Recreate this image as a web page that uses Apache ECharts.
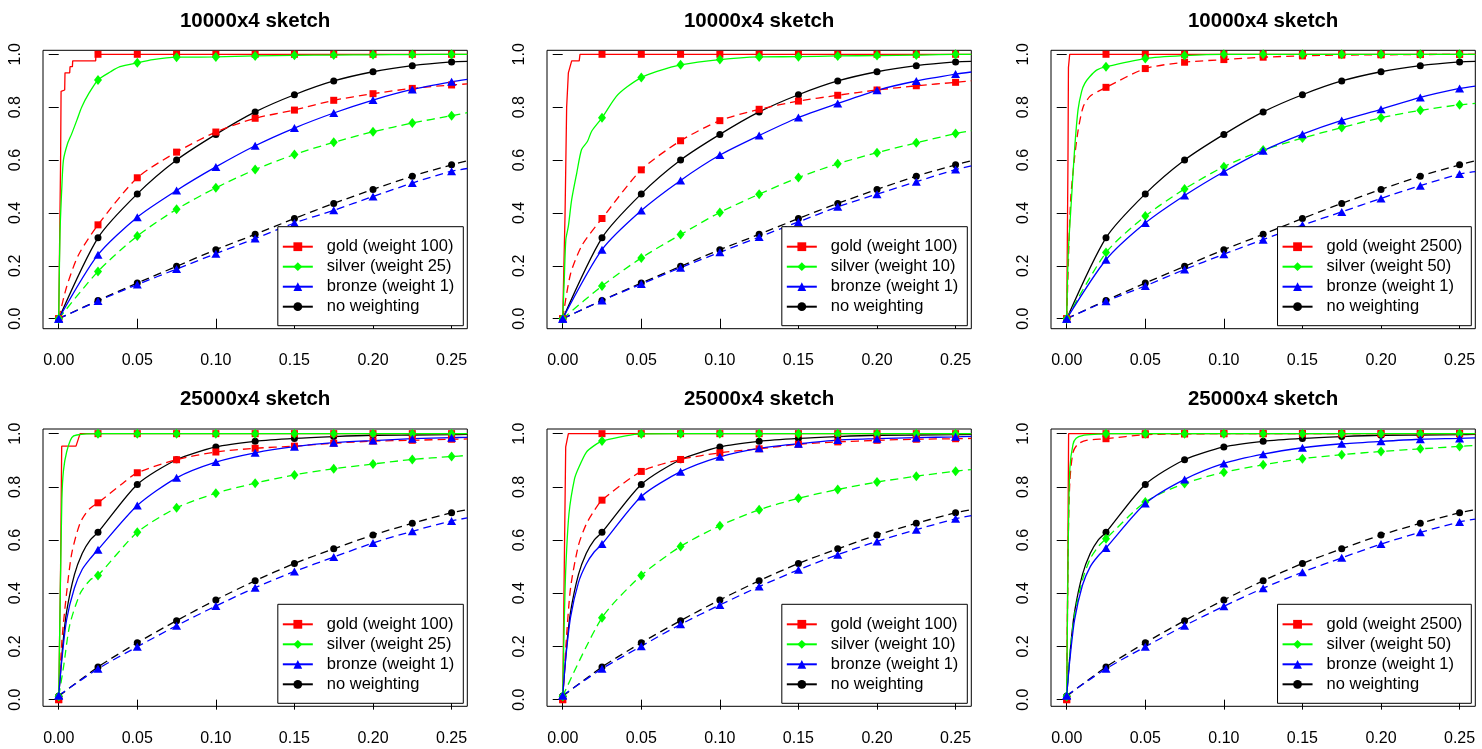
<!DOCTYPE html>
<html><head><meta charset="utf-8">
<script src="https://cdn.jsdelivr.net/npm/echarts@6/dist/echarts.min.js"></script>
<style>html,body{margin:0;padding:0;background:#fff}#c{width:1482px;height:749px}</style>
</head><body><div id="c"></div>
<script>
// ---------- data ----------
const xMarks = [0, 0.025, 0.05, 0.075, 0.1, 0.125, 0.15, 0.175, 0.2, 0.225, 0.25];
const xTicks = [0, 0.05, 0.1, 0.15, 0.2, 0.25];
const yTicks = [0, 0.2, 0.4, 0.6, 0.8, 1.0];
const panelTitles = ['10000x4 sketch', '10000x4 sketch', '10000x4 sketch', '25000x4 sketch', '25000x4 sketch', '25000x4 sketch'];
const goldNames = ['gold (weight 100)', 'gold (weight 100)', 'gold (weight 2500)', 'gold (weight 100)', 'gold (weight 100)', 'gold (weight 2500)'];
const silverNames = ['silver (weight 25)', 'silver (weight 10)', 'silver (weight 50)', 'silver (weight 25)', 'silver (weight 10)', 'silver (weight 50)'];
const bronzeNames = ['bronze (weight 1)', 'bronze (weight 1)', 'bronze (weight 1)', 'bronze (weight 1)', 'bronze (weight 1)', 'bronze (weight 1)'];
const noneName = 'no weighting';

// no weighting (shared within a row)
const topNoneSolid = [0, 0.306, 0.472, 0.600, 0.697, 0.782, 0.847, 0.899, 0.934, 0.957, 0.971];
const topNoneSolidExtra = [[0.26, 0.973]];
const topNoneDashed = [0, 0.069, 0.135, 0.198, 0.261, 0.319, 0.379, 0.436, 0.489, 0.539, 0.582];
const topNoneDashedExtra = [[0.26, 0.597]];
const botNoneSolid = [0.013, 0.629, 0.809, 0.902, 0.950, 0.971, 0.982, 0.989, 0.994, 0.995, 0.996];
const botNoneSolidExtra = [[0.0025, 0.2], [0.005, 0.33], [0.01, 0.47], [0.015, 0.55], [0.02, 0.6], [0.26, 0.997]];
const botNoneDashed = [0.013, 0.123, 0.214, 0.297, 0.375, 0.447, 0.512, 0.567, 0.619, 0.663, 0.703];
const botNoneDashedExtra = [[0.26, 0.714]];

// panel 1
const p1GoldSolid = [0, 1, 1, 1, 1, 1, 1, 1, 1, 1, 1];
const p1GoldSolidExtra = [[0.0012, 0.6], [0.0015, 0.86], [0.0038, 0.865], [0.004, 0.93], [0.007, 0.93], [0.0072, 0.953], [0.0087, 0.953], [0.0089, 0.975], [0.0235, 0.975], [0.0237, 1.0], [0.26, 1.0]];
const p1GoldDashed = [0, 0.355, 0.533, 0.630, 0.706, 0.758, 0.789, 0.826, 0.851, 0.871, 0.884];
const p1GoldDashedExtra = [[0.005, 0.12], [0.0125, 0.24], [0.26, 0.888]];
const p1SilverSolid = [0, 0.903, 0.968, 0.989, 0.990, 0.994, 0.996, 0.997, 0.998, 0.999, 1.0];
const p1SilverSolidExtra = [[0.0008, 0.32], [0.002, 0.5], [0.003, 0.6], [0.0055, 0.66], [0.0083, 0.7], [0.0115, 0.75], [0.0146, 0.8], [0.019, 0.85], [0.033, 0.934], [0.039, 0.953], [0.06, 0.98], [0.26, 1.0]];
const p1SilverDashed = [0, 0.179, 0.313, 0.414, 0.495, 0.564, 0.621, 0.667, 0.707, 0.740, 0.768];
const p1SilverDashedExtra = [[0.26, 0.779]];
const p1BronzeSolid = [0, 0.242, 0.384, 0.485, 0.574, 0.654, 0.721, 0.778, 0.827, 0.867, 0.896];
const p1BronzeSolidExtra = [[0.26, 0.905]];
const p1BronzeDashed = [0, 0.067, 0.129, 0.188, 0.246, 0.303, 0.362, 0.410, 0.462, 0.513, 0.558];
const p1BronzeDashedExtra = [[0.26, 0.568]];

// panel 2
const p2GoldSolid = [0, 1, 1, 1, 1, 1, 1, 1, 1, 1, 1];
const p2GoldSolidExtra = [[0.0015, 0.4], [0.0025, 0.8], [0.0036, 0.93], [0.0048, 0.93], [0.0057, 0.975], [0.0105, 0.975], [0.011, 1.0], [0.26, 1.0]];
const p2GoldDashed = [0, 0.379, 0.563, 0.673, 0.749, 0.792, 0.823, 0.845, 0.865, 0.881, 0.894];
const p2GoldDashedExtra = [[0.005, 0.17], [0.0125, 0.28], [0.26, 0.9]];
const p2SilverSolid = [0, 0.760, 0.912, 0.960, 0.980, 0.990, 0.991, 0.994, 0.995, 0.997, 1.0];
const p2SilverSolidExtra = [[0.001, 0.15], [0.002, 0.3], [0.0036, 0.35], [0.0057, 0.45], [0.0089, 0.55], [0.012, 0.64], [0.0157, 0.67], [0.0185, 0.71], [0.034, 0.84], [0.041, 0.877], [0.06, 0.935], [0.26, 1.0]];
const p2SilverDashed = [0, 0.124, 0.230, 0.318, 0.402, 0.471, 0.534, 0.586, 0.628, 0.665, 0.700];
const p2SilverDashedExtra = [[0.26, 0.711]];
const p2BronzeSolid = [0, 0.261, 0.409, 0.523, 0.619, 0.693, 0.761, 0.814, 0.864, 0.899, 0.925];
const p2BronzeSolidExtra = [[0.26, 0.933]];
const p2BronzeDashed = [0, 0.069, 0.131, 0.193, 0.251, 0.309, 0.366, 0.423, 0.471, 0.518, 0.564];
const p2BronzeDashedExtra = [[0.26, 0.578]];

// panel 3
const p3GoldSolid = [0, 1, 1, 1, 1, 1, 1, 1, 1, 1, 1];
const p3GoldSolidExtra = [[0.0008, 0.6], [0.0011, 0.95], [0.0019, 1.0], [0.26, 1.0]];
const p3GoldDashed = [0, 0.875, 0.946, 0.970, 0.980, 0.989, 0.994, 0.997, 0.998, 0.999, 1.0];
const p3GoldDashedExtra = [[0.001, 0.2], [0.0025, 0.45], [0.005, 0.61], [0.0072, 0.71], [0.0104, 0.8], [0.0146, 0.84], [0.02, 0.86], [0.26, 1.0]];
const p3SilverSolid = [0, 0.953, 0.984, 0.995, 1, 1, 1, 1, 1, 1, 1];
const p3SilverSolidExtra = [[0.001, 0.25], [0.003, 0.45], [0.005, 0.64], [0.0072, 0.79], [0.0095, 0.86], [0.0115, 0.89], [0.0146, 0.915], [0.019, 0.94], [0.26, 1.0]];
const p3SilverDashed = [0, 0.250, 0.388, 0.491, 0.575, 0.638, 0.683, 0.723, 0.760, 0.788, 0.809];
const p3SilverDashedExtra = [[0.26, 0.814]];
const p3BronzeSolid = [0, 0.223, 0.362, 0.466, 0.556, 0.635, 0.698, 0.750, 0.792, 0.837, 0.871];
const p3BronzeSolidExtra = [[0.26, 0.880]];
const p3BronzeDashed = [0, 0.066, 0.124, 0.186, 0.244, 0.299, 0.354, 0.404, 0.455, 0.503, 0.547];
const p3BronzeDashedExtra = [[0.26, 0.556]];

// panel 4
const p4GoldSolid = [0, 1, 1, 1, 1, 1, 1, 1, 1, 1, 1];
const p4GoldSolidExtra = [[0.0012, 0.5], [0.0019, 0.953], [0.011, 0.953], [0.0136, 1.0], [0.26, 1.0]];
const p4GoldDashed = [0, 0.740, 0.853, 0.902, 0.931, 0.945, 0.953, 0.964, 0.972, 0.975, 0.979];
const p4GoldDashedExtra = [[0.002, 0.22], [0.005, 0.4], [0.0083, 0.55], [0.0136, 0.664], [0.019, 0.714], [0.04, 0.81], [0.26, 0.98]];
const p4SilverSolid = [0.013, 1, 1, 1, 1, 1, 1, 1, 1, 1, 1];
const p4SilverSolidExtra = [[0.001, 0.4], [0.002, 0.75], [0.003, 0.86], [0.005, 0.93], [0.0083, 0.985], [0.0115, 0.995], [0.26, 1.0]];
const p4SilverDashed = [0.013, 0.467, 0.629, 0.721, 0.776, 0.814, 0.845, 0.868, 0.886, 0.903, 0.914];
const p4SilverDashedExtra = [[0.003, 0.12], [0.007, 0.28], [0.0137, 0.4], [0.02, 0.45], [0.26, 0.918]];
const p4BronzeSolid = [0.016, 0.564, 0.730, 0.834, 0.893, 0.928, 0.951, 0.966, 0.974, 0.981, 0.985];
const p4BronzeSolidExtra = [[0.002, 0.15], [0.005, 0.3], [0.01, 0.42], [0.015, 0.49], [0.02, 0.53], [0.26, 0.986]];
const p4BronzeDashed = [0.016, 0.116, 0.199, 0.278, 0.352, 0.421, 0.482, 0.536, 0.589, 0.633, 0.672];
const p4BronzeDashedExtra = [[0.26, 0.683]];

// panel 5
const p5GoldSolid = [0, 1, 1, 1, 1, 1, 1, 1, 1, 1, 1];
const p5GoldSolidExtra = [[0.001, 0.5], [0.0019, 0.95], [0.0036, 1.0], [0.26, 1.0]];
const p5GoldDashed = [0, 0.750, 0.858, 0.903, 0.928, 0.943, 0.960, 0.969, 0.975, 0.979, 0.981];
const p5GoldDashedExtra = [[0.002, 0.2], [0.005, 0.42], [0.01, 0.58], [0.015, 0.66], [0.02, 0.71], [0.26, 0.982]];
const p5SilverSolid = [0.013, 0.972, 0.999, 1, 1, 1, 1, 1, 1, 1, 1];
const p5SilverSolidExtra = [[0.001, 0.3], [0.002, 0.5], [0.004, 0.7], [0.0075, 0.83], [0.01, 0.87], [0.015, 0.93], [0.02, 0.955], [0.26, 1.0]];
const p5SilverDashed = [0.013, 0.308, 0.467, 0.576, 0.654, 0.714, 0.757, 0.790, 0.818, 0.840, 0.859];
const p5SilverDashedExtra = [[0.26, 0.865]];
const p5BronzeSolid = [0.016, 0.585, 0.764, 0.857, 0.913, 0.945, 0.962, 0.976, 0.981, 0.985, 0.988];
const p5BronzeSolidExtra = [[0.002, 0.16], [0.005, 0.31], [0.01, 0.44], [0.015, 0.51], [0.02, 0.555], [0.26, 0.99]];
const p5BronzeDashed = [0.016, 0.116, 0.201, 0.283, 0.356, 0.425, 0.488, 0.545, 0.595, 0.639, 0.680];
const p5BronzeDashedExtra = [[0.26, 0.692]];

// panel 6
const p6GoldSolid = [0, 1, 1, 1, 1, 1, 1, 1, 1, 1, 1];
const p6GoldSolidExtra = [[0.0008, 0.6], [0.0012, 1.0], [0.26, 1.0]];
const p6GoldDashed = [0, 0.981, 0.996, 0.999, 1, 1, 1, 1, 1, 1, 1];
const p6GoldDashedExtra = [[0.001, 0.6], [0.002, 0.82], [0.004, 0.93], [0.007, 0.96], [0.0125, 0.975], [0.26, 1.0]];
const p6SilverSolid = [0.013, 1, 1, 1, 1, 1, 1, 1, 1, 1, 1];
const p6SilverSolidExtra = [[0.001, 0.6], [0.002, 0.87], [0.004, 0.96], [0.006, 0.983], [0.01, 0.993], [0.02, 0.998], [0.26, 1.0]];
const p6SilverDashed = [0.013, 0.605, 0.743, 0.813, 0.855, 0.883, 0.906, 0.921, 0.933, 0.943, 0.952];
const p6SilverDashedExtra = [[0.0025, 0.2], [0.005, 0.32], [0.01, 0.45], [0.015, 0.53], [0.02, 0.575], [0.26, 0.956]];
const p6BronzeSolid = [0.016, 0.570, 0.737, 0.828, 0.888, 0.923, 0.947, 0.962, 0.971, 0.979, 0.982];
const p6BronzeSolidExtra = [[0.002, 0.15], [0.005, 0.3], [0.01, 0.43], [0.015, 0.5], [0.02, 0.54], [0.26, 0.984]];
const p6BronzeDashed = [0.016, 0.116, 0.199, 0.278, 0.351, 0.419, 0.479, 0.533, 0.585, 0.629, 0.668];
const p6BronzeDashedExtra = [[0.26, 0.679]];

// ---------- assembly ----------
const panels = [
  {none: [topNoneSolid, topNoneSolidExtra, topNoneDashed, topNoneDashedExtra],
   gold: [p1GoldSolid, p1GoldSolidExtra, p1GoldDashed, p1GoldDashedExtra],
   silver: [p1SilverSolid, p1SilverSolidExtra, p1SilverDashed, p1SilverDashedExtra],
   bronze: [p1BronzeSolid, p1BronzeSolidExtra, p1BronzeDashed, p1BronzeDashedExtra]},
  {none: [topNoneSolid, topNoneSolidExtra, topNoneDashed, topNoneDashedExtra],
   gold: [p2GoldSolid, p2GoldSolidExtra, p2GoldDashed, p2GoldDashedExtra],
   silver: [p2SilverSolid, p2SilverSolidExtra, p2SilverDashed, p2SilverDashedExtra],
   bronze: [p2BronzeSolid, p2BronzeSolidExtra, p2BronzeDashed, p2BronzeDashedExtra]},
  {none: [topNoneSolid, topNoneSolidExtra, topNoneDashed, topNoneDashedExtra],
   gold: [p3GoldSolid, p3GoldSolidExtra, p3GoldDashed, p3GoldDashedExtra],
   silver: [p3SilverSolid, p3SilverSolidExtra, p3SilverDashed, p3SilverDashedExtra],
   bronze: [p3BronzeSolid, p3BronzeSolidExtra, p3BronzeDashed, p3BronzeDashedExtra]},
  {none: [botNoneSolid, botNoneSolidExtra, botNoneDashed, botNoneDashedExtra],
   gold: [p4GoldSolid, p4GoldSolidExtra, p4GoldDashed, p4GoldDashedExtra],
   silver: [p4SilverSolid, p4SilverSolidExtra, p4SilverDashed, p4SilverDashedExtra],
   bronze: [p4BronzeSolid, p4BronzeSolidExtra, p4BronzeDashed, p4BronzeDashedExtra]},
  {none: [botNoneSolid, botNoneSolidExtra, botNoneDashed, botNoneDashedExtra],
   gold: [p5GoldSolid, p5GoldSolidExtra, p5GoldDashed, p5GoldDashedExtra],
   silver: [p5SilverSolid, p5SilverSolidExtra, p5SilverDashed, p5SilverDashedExtra],
   bronze: [p5BronzeSolid, p5BronzeSolidExtra, p5BronzeDashed, p5BronzeDashedExtra]},
  {none: [botNoneSolid, botNoneSolidExtra, botNoneDashed, botNoneDashedExtra],
   gold: [p6GoldSolid, p6GoldSolidExtra, p6GoldDashed, p6GoldDashedExtra],
   silver: [p6SilverSolid, p6SilverSolidExtra, p6SilverDashed, p6SilverDashedExtra],
   bronze: [p6BronzeSolid, p6BronzeSolidExtra, p6BronzeDashed, p6BronzeDashedExtra]}
];

const FONT = '"Liberation Sans", Arial, Helvetica, sans-serif';
const W = 1482, H = 749;
const colLeft = [43, 547, 1051];
const boxW = 424.3;
const rowTop = [50.3, 429];
const rowH = [278.4, 277.3];
const rowYMin = [-0.0378, -0.025];
const rowYMax = [1.0151, 1.0175];
const titleY = [21, 399];

const STY = {
  none:   {color: '#000000', symbol: 'circle',   size: 7},
  gold:   {color: '#ff0000', symbol: 'rect',     size: [7, 7]},
  silver: {color: '#00ff00', symbol: 'diamond',  size: [8, 10]},
  bronze: {color: '#0000ff', symbol: 'triangle', size: [9, 8]}
};

function buildData(marks, extra) {
  const pts = marks.map((y, i) => ({value: [xMarks[i], y]}));
  extra.forEach(([x, y]) => pts.push({value: [x, y], symbol: 'none'}));
  pts.sort((a, b) => a.value[0] - b.value[0]);
  return pts;
}

const grid = [], xAxis = [], yAxis = [], series = [], legend = [], title = [];
panels.forEach((pd, p) => {
  const col = p % 3, row = Math.floor(p / 3);
  const left = colLeft[col], top = rowTop[row];
  grid.push({left: left, top: top, width: boxW, height: rowH[row], show: true,
    borderColor: '#000', borderWidth: 1, backgroundColor: 'transparent', containLabel: false});
  xAxis.push({type: 'value', gridIndex: p, min: -0.01, max: 0.26,
    axisLine: {show: false}, splitLine: {show: false},
    axisTick: {show: true, length: 10, lineStyle: {color: '#000', width: 1}, customValues: xTicks},
    axisLabel: {customValues: xTicks, formatter: v => v.toFixed(2), fontSize: 16, color: '#000', fontFamily: FONT, margin: 24}
  });
  yAxis.push({type: 'value', gridIndex: p, min: rowYMin[row], max: rowYMax[row],
    axisLine: {show: false}, splitLine: {show: false},
    axisTick: {show: true, length: 10, lineStyle: {color: '#000', width: 1}, customValues: yTicks},
    axisLabel: {customValues: yTicks, formatter: v => v.toFixed(1), fontSize: 16, color: '#000', fontFamily: FONT, margin: 19, rotate: 90}
  });
  title.push({text: panelTitles[p], left: left + boxW / 2, top: titleY[row] + 0.5, padding: 0,
    textAlign: 'center', textVerticalAlign: 'middle',
    textStyle: {fontSize: 20.5, fontWeight: 'bold', color: '#000', fontFamily: FONT}});

  const names = {none: noneName, gold: goldNames[p], silver: silverNames[p], bronze: bronzeNames[p]};
  ['none', 'gold', 'silver', 'bronze'].forEach(key => {
    const s = STY[key];
    const [sm, se, dm, de] = pd[key];
    const stepLike = key === 'gold';
    series.push({type: 'line', name: names[key], xAxisIndex: p, yAxisIndex: p,
      data: buildData(sm, se), symbol: s.symbol, symbolSize: s.size, showAllSymbol: true,
      smooth: stepLike ? false : 0.25,
      lineStyle: {color: s.color, width: 1.3, type: 'solid'}, itemStyle: {color: s.color},
      emphasis: {disabled: true}, silent: true, animation: false, clip: true});
    series.push({type: 'line', name: 'p' + p + ' ' + key + ' dashed', xAxisIndex: p, yAxisIndex: p,
      data: buildData(dm, de), symbol: s.symbol, symbolSize: s.size, showAllSymbol: true,
      smooth: 0.25,
      lineStyle: {color: s.color, width: 1.3, type: [8, 5]}, itemStyle: {color: s.color},
      emphasis: {disabled: true}, silent: true, animation: false, clip: true});
  });

  legend.push({data: [goldNames[p], silverNames[p], bronzeNames[p], noneName],
    orient: 'vertical', right: W - (left + boxW - 4), bottom: H - (top + rowH[row] - 3),
    itemWidth: 30, itemHeight: 11, itemGap: 0, padding: [10, 9, 9, 4],
    borderColor: '#000', borderWidth: 1, borderRadius: 0, backgroundColor: '#fff',
    selectedMode: false,
    textStyle: {fontSize: 16.5, lineHeight: 20, color: '#000', fontFamily: FONT, padding: [0, 0, 0, 9]}
  });
});

const chart = echarts.init(document.getElementById('c'), null, {renderer: 'canvas', width: W, height: H});
chart.setOption({animation: false, backgroundColor: '#fff', title, grid, xAxis, yAxis, legend, series});
</script>
</body></html>
